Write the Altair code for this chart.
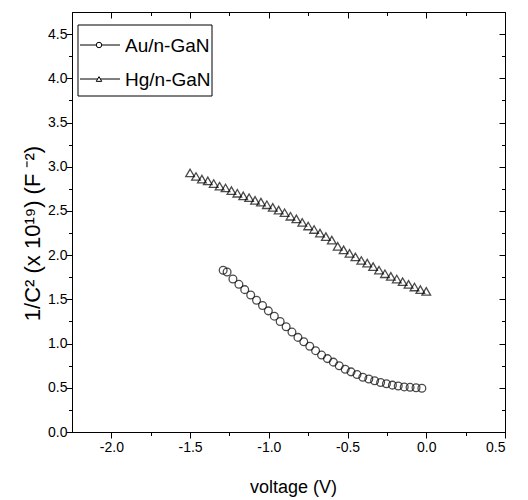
import altair as alt
import pandas as pd

# ---- data ----
au_v = [-1.29, -1.265, -1.228, -1.19, -1.153, -1.115, -1.078, -1.04, -1.003, -0.965,
        -0.928, -0.89, -0.853, -0.815, -0.778, -0.74, -0.703, -0.665, -0.628, -0.59,
        -0.553, -0.515, -0.478, -0.44, -0.403, -0.365, -0.328, -0.29, -0.253, -0.215,
        -0.178, -0.14, -0.103, -0.065, -0.028]
au_c = [1.83, 1.81, 1.73, 1.67, 1.61, 1.55, 1.49, 1.43, 1.37, 1.31,
        1.25, 1.19, 1.13, 1.07, 1.02, 0.97, 0.92, 0.87, 0.83, 0.79,
        0.75, 0.71, 0.68, 0.65, 0.62, 0.60, 0.58, 0.56, 0.545, 0.53,
        0.52, 0.51, 0.505, 0.50, 0.495]

hg_v = [-1.5, -1.4625, -1.425, -1.3875, -1.35, -1.3125, -1.275, -1.2375, -1.2, -1.1625,
        -1.125, -1.0875, -1.05, -1.0125, -0.975, -0.9375, -0.9, -0.8625, -0.825, -0.7875,
        -0.75, -0.7125, -0.675, -0.6375, -0.6, -0.5625, -0.525, -0.4875, -0.45, -0.4125,
        -0.375, -0.3375, -0.3, -0.2625, -0.225, -0.1875, -0.15, -0.1125, -0.075, -0.0375, 0.0]
hg_c = [2.93, 2.89, 2.86, 2.84, 2.81, 2.78, 2.76, 2.73, 2.70, 2.67,
        2.65, 2.62, 2.60, 2.57, 2.54, 2.51, 2.48, 2.44, 2.41, 2.37,
        2.33, 2.29, 2.25, 2.21, 2.17, 2.10, 2.06, 2.02, 1.98, 1.94,
        1.91, 1.87, 1.83, 1.79, 1.76, 1.73, 1.70, 1.67, 1.64, 1.61, 1.59]

x_major = [-2.0, -1.5, -1.0, -0.5, 0.0, 0.5]
x_minor = [-1.75, -1.25, -0.75, -0.25, 0.25]
y_major = [0.0, 0.5, 1.0, 1.5, 2.0, 2.5, 3.0, 3.5, 4.0, 4.5]
y_minor = [0.25, 0.75, 1.25, 1.75, 2.25, 2.75, 3.25, 3.75, 4.25]
legend_labels = ["Au/n-GaN", "Hg/n-GaN"]
legend_shapes = ["circle", "triangle-up"]
x_title = "voltage (V)"
y_title = "1/C² (x 10¹⁹) (F ⁻²)"

# ---- styling ----
W, H = 433, 420
FONT = "Liberation Sans, Arial"
LAB = "(datum.value < 0 ? '-' : '') + format(abs(datum.value), '.1f')"

au = pd.DataFrame({"v": au_v, "c": au_c})
hg = pd.DataFrame({"v": hg_v, "c": hg_c})

xs = alt.Scale(domain=[-2.25, 0.5], nice=False, zero=False)
ys = alt.Scale(domain=[0, 4.75], nice=False, zero=False)

base_ax = dict(grid=False, domainColor="black", tickColor="black", domainWidth=1, tickWidth=1)


def plain_axis(orient, values, size, offset=0, domain=True):
    kw = dict(base_ax)
    kw.update(orient=orient, values=values, tickSize=size, labels=False, title=None,
              domain=domain)
    if offset:
        kw["offset"] = offset
    return alt.Axis(**kw)


ax_bottom = alt.Axis(orient="bottom", values=x_major, tickSize=6, labelExpr=LAB,
                     labelFont=FONT, labelFontSize=14, labelColor="black", labelPadding=2,
                     title=x_title, titleFont=FONT, titleFontSize=18,
                     titleFontWeight="normal", titleColor="black", titleX=221, titleY=55,
                     titleAlign="center", titleBaseline="middle", **base_ax)
ax_left = alt.Axis(orient="left", values=y_major, tickSize=6, labelExpr=LAB,
                   labelFont=FONT, labelFontSize=14, labelColor="black", labelPadding=-1,
                   title=y_title, titleFont=FONT, titleFontSize=22, titleFontWeight="normal",
                   titleColor="black", titleX=-40, titleY=221, titleAngle=270,
                   titleAlign="center", titleBaseline="middle", **base_ax)

pt = dict(filled=False, color="black", strokeWidth=1.3)

au_layer = alt.Chart(au).mark_point(shape="circle", size=60, **pt).encode(
    x=alt.X("v:Q", scale=xs, axis=ax_bottom),
    y=alt.Y("c:Q", scale=ys, axis=ax_left),
)
hg_layer = alt.Chart(hg).mark_point(shape="triangle-up", size=75, **pt).encode(
    x=alt.X("v:Q", scale=xs, axis=plain_axis("bottom", x_major, 6, offset=-H)),
    y=alt.Y("c:Q", scale=ys, axis=plain_axis("left", y_major, 6, offset=-W)),
)
minor1 = alt.Chart(au).mark_point(opacity=0).encode(
    x=alt.X("v:Q", scale=xs, axis=plain_axis("bottom", x_minor, 3.5, domain=False)),
    y=alt.Y("c:Q", scale=ys, axis=plain_axis("left", y_minor, 3.5, domain=False)),
)
minor2 = alt.Chart(hg).mark_point(opacity=0).encode(
    x=alt.X("v:Q", scale=xs, axis=plain_axis("bottom", x_minor, 3.5, offset=-H, domain=False)),
    y=alt.Y("c:Q", scale=ys, axis=plain_axis("left", y_minor, 3.5, offset=-W, domain=False)),
)

# ---- hand-drawn legend box (upper-left) ----
one = pd.DataFrame({"k": [0]})
legend_layers = [
    alt.Chart(one).mark_rect(fill="white", stroke="black", strokeWidth=1).encode(
        x=alt.value(6), x2=alt.value(140), y=alt.value(13), y2=alt.value(84))
]
for i, (lab, shp) in enumerate(zip(legend_labels, legend_shapes)):
    yy = 33 + 34 * i
    d = pd.DataFrame({"label": [lab]})
    legend_layers.append(alt.Chart(d).mark_rule(color="black", strokeWidth=1).encode(
        x=alt.value(8), x2=alt.value(48), y=alt.value(yy)))
    legend_layers.append(alt.Chart(d).mark_point(shape=shp, size=30, filled=True,
                                                  fill="white", stroke="black",
                                                  strokeWidth=1, opacity=1).encode(
        x=alt.value(27), y=alt.value(yy)))
    legend_layers.append(alt.Chart(d).mark_text(align="left", baseline="middle",
                                                 font=FONT, fontSize=19,
                                                 color="black").encode(
        x=alt.value(53), y=alt.value(yy + 1), text="label:N"))

chart = alt.layer(au_layer, hg_layer, minor1, minor2, *legend_layers).resolve_axis(
    x="independent", y="independent"
).properties(
    width=W, height=H,
    autosize=alt.AutoSizeParams(type="none"),
    padding={"left": 64, "top": 4, "right": 15, "bottom": 66},
    background="white",
).configure_view(stroke="black", strokeWidth=1)

chart.save("out.html", embed_options={"renderer": "svg", "actions": False})
